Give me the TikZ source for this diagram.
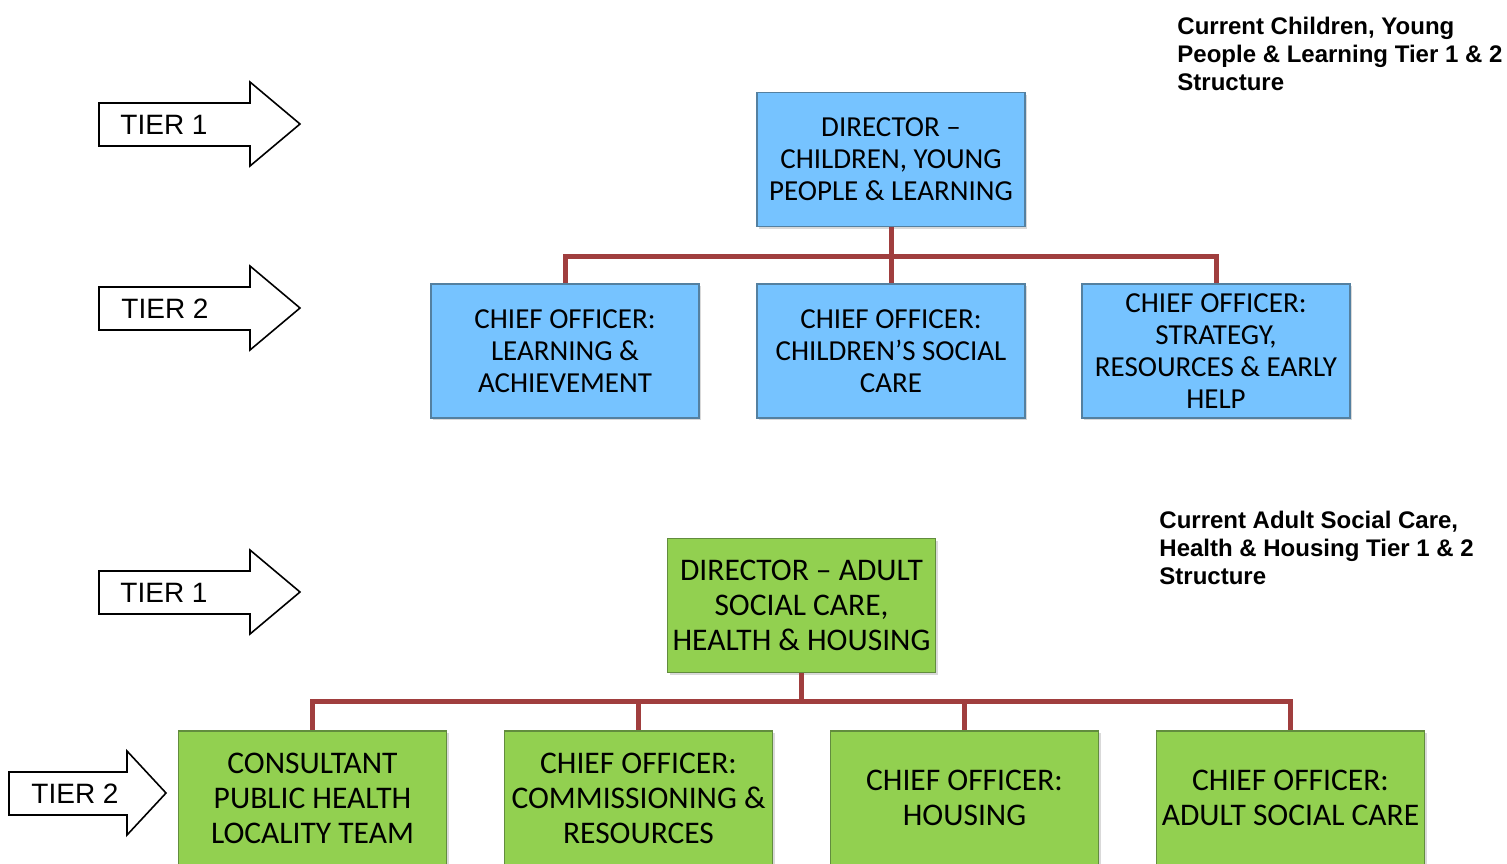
\documentclass[tikz,border=0pt]{standalone}
\usepackage{fontspec}
\setmainfont{Carlito}
\newfontfamily\arialfont{Liberation Sans}
\usetikzlibrary{shadows}

\definecolor{boxblue}{RGB}{118,195,255}
\definecolor{boxblueline}{RGB}{84,128,160}
\definecolor{boxgreen}{RGB}{146,208,80}
\definecolor{boxgreenline}{RGB}{98,140,62}
\definecolor{linkred}{RGB}{160,62,62}

\tikzset{
  orgbox/.style={line width=0.6pt, minimum width=134pt, minimum height=67pt,
    align=center, inner sep=0pt,
    drop shadow={opacity=0.3, shadow xshift=1.2pt, shadow yshift=-1.2pt}},
  bluebox/.style={orgbox, draw=boxblueline, fill=boxblue,
    font=\fontsize{14.5}{16}\selectfont},
  greenbox/.style={orgbox, draw=boxgreenline, fill=boxgreen,
    font=\fontsize{15.75}{17.5}\selectfont},
  link/.style={draw=linkred, line width=2.5pt},
  tierarrow/.style={draw=black, line width=0.8pt, fill=white},
  tierlabel/.style={font=\arialfont\fontsize{14}{16}\selectfont, inner sep=0pt},
  title/.style={font=\arialfont\bfseries\fontsize{12}{14}\selectfont, align=left, anchor=west, inner sep=0pt}
}

\begin{document}
\begin{tikzpicture}[x=0.5pt, y=-0.5pt]
  \useasboundingbox (0,0) rectangle (1507,863);

  % Tier arrows
  \draw[tierarrow] (99,103) -- (250,103) -- (250,82) -- (300,124) -- (250,166) -- (250,146) -- (99,146) -- cycle;
  \node[tierlabel] (tierAa) at (164,125) {TIER 1};
  \draw[tierarrow] (99,287) -- (250,287) -- (250,266) -- (300,308) -- (250,350) -- (250,330) -- (99,330) -- cycle;
  \node[tierlabel] (tierAb) at (165,309) {TIER 2};
  \draw[tierarrow] (99,571) -- (250,571) -- (250,550) -- (300,592) -- (250,634) -- (250,614) -- (99,614) -- cycle;
  \node[tierlabel] (tierBa) at (164,593) {TIER 1};
  \draw[tierarrow] (9,772) -- (127,772) -- (127,751) -- (166,793) -- (127,835) -- (127,815) -- (9,815) -- cycle;
  \node[tierlabel] (tierBb) at (75,794) {TIER 2};

  % Titles
  \node[title] (titleA) at (1177,54) {Current Children, Young\\People \& Learning Tier 1 \& 2\\Structure};
  \node[title] (titleB) at (1159,548) {Current Adult Social Care,\\Health \& Housing Tier 1 \& 2\\Structure};

  % Children, Young People & Learning
  \node[bluebox] (dcyp) at (891,159.5) {DIRECTOR --\\CHILDREN, YOUNG\\PEOPLE \& LEARNING};
  \node[bluebox] (lach) at (565,351) {CHIEF OFFICER:\\LEARNING \&\\ACHIEVEMENT};
  \node[bluebox] (csc)  at (891,351) {CHIEF OFFICER:\\CHILDREN'S SOCIAL\\CARE};
  \node[bluebox] (sreh) at (1216,351) {CHIEF OFFICER:\\STRATEGY,\\RESOURCES \& EARLY\\HELP};

  \begin{scope}[on background layer/.try]
  \foreach \n in {lach,csc,sreh}
    \draw[link] (dcyp.south) -- ++(0,29) -| (\n.north);
  \end{scope}

  % Adult Social Care, Health & Housing
  \node[greenbox] (dash) at (801.5,605.5) {DIRECTOR -- ADULT\\SOCIAL CARE,\\HEALTH \& HOUSING};
  \node[greenbox] (cphl) at (312.5,798) {CONSULTANT\\PUBLIC HEALTH\\LOCALITY TEAM};
  \node[greenbox] (comr) at (638.5,798) {CHIEF OFFICER:\\COMMISSIONING \&\\RESOURCES};
  \node[greenbox] (hous) at (964.5,798) {CHIEF OFFICER:\\HOUSING};
  \node[greenbox] (adsc) at (1290.5,798) {CHIEF OFFICER:\\ADULT SOCIAL CARE};

  \foreach \n in {cphl,comr,hous,adsc}
    \draw[link] (dash.south) -- ++(0,28) -| (\n.north);
\end{tikzpicture}
\end{document}
